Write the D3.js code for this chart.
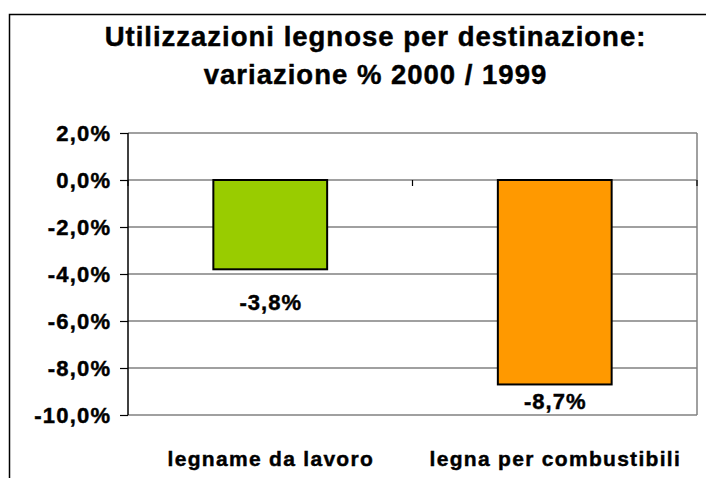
<!DOCTYPE html>
<html>
<head>
<meta charset="utf-8">
<script src="https://cdn.jsdelivr.net/npm/d3@7"></script>
<style>
  html, body { margin: 0; padding: 0; background: #ffffff; }
  svg { display: block; }
  text { font-family: "Liberation Sans", Arial, sans-serif; font-weight: 700; fill: #000; stroke: #000; stroke-width: 0.45px; }
</style>
</head>
<body>
<div id="chart"></div>
<script>
// ---- data ----
const titleLines = ["Utilizzazioni legnose per destinazione:", "variazione % 2000 / 1999"];
const categories = ["legname da lavoro", "legna per combustibili"];
const values = [-0.038, -0.087];
const yTicks = [0.02, 0.0, -0.02, -0.04, -0.06, -0.08, -0.10];
const yDomain = [-0.10, 0.02];

// ---- styles / layout ----
const barColors = ["#99CC00", "#FF9900"];
const W = 706, H = 478;
const plot = { left: 128, right: 697, top: 133, bottom: 415 };
const labelOffsets = [41, 25];

const locale = d3.formatLocale({ decimal: ",", thousands: ".", grouping: [3], currency: ["", "€"], minus: "-", percent: "%" });
const fmt = locale.format(".1%");

const svg = d3.select("#chart").append("svg").attr("width", W).attr("height", H);

// outer chart border (clipped at right/bottom like reference)
svg.append("rect")
  .attr("x", 9.5).attr("y", 14.5).attr("width", 760).attr("height", 520)
  .attr("fill", "none").attr("stroke", "#000").attr("stroke-width", 1.5);

const y = d3.scaleLinear().domain(yDomain).range([plot.bottom, plot.top]);
const x = d3.scaleBand().domain(categories).range([plot.left, plot.right]).paddingInner(0.6).paddingOuter(0.3);
const xb = d3.scaleBand().domain(categories).range([plot.left, plot.right]);

// title
svg.append("g").selectAll("text").data(titleLines).join("text")
  .attr("x", 375 + 0.5).attr("y", (d, i) => 46 + i * 38)
  .attr("text-anchor", "middle")
  .attr("font-weight", 700)
  .style("font-size", "27.5px").style("letter-spacing", "1px")
  .text(d => d);

// gridlines
svg.append("g").selectAll("line").data(yTicks).join("line")
  .attr("x1", plot.left).attr("x2", plot.right)
  .attr("y1", d => y(d)).attr("y2", d => y(d))
  .attr("stroke", "#808080").attr("stroke-width", 1.5);

// right border of plot
svg.append("line")
  .attr("x1", plot.right).attr("x2", plot.right)
  .attr("y1", plot.top).attr("y2", plot.bottom)
  .attr("stroke", "#808080").attr("stroke-width", 1.5);

// category axis at zero with ticks
const catTicks = categories.map(c => xb(c)).concat([plot.right]);
svg.append("g").selectAll("line").data(catTicks).join("line")
  .attr("x1", d => d).attr("x2", d => d)
  .attr("y1", y(0)).attr("y2", y(0) + 6)
  .attr("stroke", "#000").attr("stroke-width", 1.2);

// bars
svg.append("g").selectAll("rect").data(values).join("rect")
  .attr("x", (d, i) => x(categories[i]))
  .attr("width", x.bandwidth())
  .attr("y", d => y(Math.max(0, d)))
  .attr("height", d => Math.abs(y(d) - y(0)))
  .attr("fill", (d, i) => barColors[i])
  .attr("stroke", "#000").attr("stroke-width", 2);

// y axis
const yAxis = d3.axisLeft(y).tickValues(yTicks).tickFormat(fmt).tickSize(8).tickPadding(10);
const gy = svg.append("g").attr("transform", `translate(${plot.left},0)`).call(yAxis);
gy.attr("font-family", null).attr("font-size", null);
gy.select(".domain").attr("stroke", "#000").attr("stroke-width", 1.5).attr("d", `M-0,${plot.top}H0V${plot.bottom}H-0`);
gy.selectAll(".tick line").attr("stroke", "#000").attr("stroke-width", 1.2);
gy.selectAll(".tick text")
  .attr("font-weight", 700)
  .style("font-size", "22px").style("letter-spacing", "1.2px")
  .attr("dx", "1.2px").attr("dy", "0.36em").attr("x", -18);

// value labels
svg.append("g").selectAll("text").data(values).join("text")
  .attr("x", (d, i) => x(categories[i]) + x.bandwidth() / 2 + 0.5)
  .attr("y", (d, i) => y(d) + labelOffsets[i])
  .attr("text-anchor", "middle")
  .attr("font-weight", 700)
  .style("font-size", "22px").style("letter-spacing", "1px")
  .text(d => fmt(d));

// category labels
svg.append("g").selectAll("text").data(categories).join("text")
  .attr("x", d => xb(d) + xb.bandwidth() / 2 + 0.6)
  .attr("y", 466)
  .attr("text-anchor", "middle")
  .attr("font-weight", 700)
  .style("font-size", "21px").style("letter-spacing", "1.3px")
  .text(d => d);
</script>
</body>
</html>
